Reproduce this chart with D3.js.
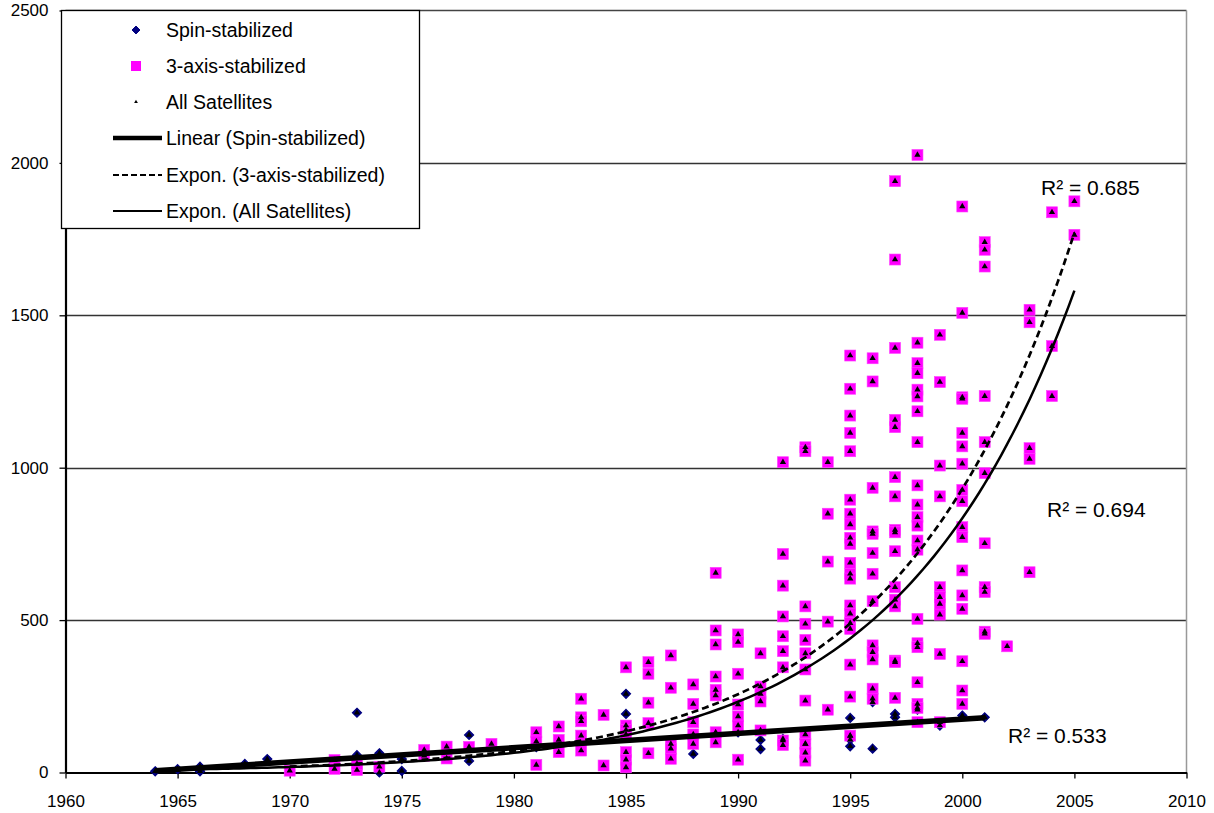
<!DOCTYPE html>
<html>
<head>
<meta charset="utf-8">
<script src="https://cdn.jsdelivr.net/npm/d3@7"></script>
<style>
  html, body { margin: 0; padding: 0; background: #fff; }
  svg { display: block; font-family: "Liberation Sans", Arial, sans-serif; }
</style>
</head>
<body>
<svg id="chart" width="1214" height="813"></svg>
<script>
// ---------------- data ----------------
const xTicks = [1960, 1965, 1970, 1975, 1980, 1985, 1990, 1995, 2000, 2005, 2010];
const yTicks = [0, 500, 1000, 1500, 2000, 2500];

// Spin-stabilized satellites: [year, value]
const spinData = [
  [1964, 4], [1965, 11], [1966, 19], [1966, 4], [1968, 28], [1969, 44],
  [1973, 196], [1973, 57], [1974, 63], [1974, 0], [1975, 44], [1975, 5],
  [1978, 123], [1978, 38], [1981, 83], [1985, 258], [1985, 192], [1988, 61],
  [1990, 132], [1991, 107], [1991, 77], [1992, 110], [1993, 94],
  [1995, 179], [1995, 120], [1995, 108], [1995, 86], [1996, 231], [1996, 78],
  [1997, 192], [1997, 181], [1998, 206], [1999, 154], [2000, 187], [2001, 181]
];

// 3-axis-stabilized satellites: values per launch year
const threeAxisYears = [1970, 1972, 1973, 1974, 1976, 1977, 1978, 1979, 1981, 1982, 1983, 1984,
  1985, 1986, 1987, 1988, 1989, 1990, 1991, 1992, 1993, 1994, 1995, 1996, 1997, 1998,
  1999, 2000, 2001, 2002, 2003, 2004, 2005];
const threeAxisValues = [
  [6],
  [41, 12],
  [8, 28],
  [19],
  [74, 55],
  [85, 46],
  [84],
  [94],
  [132, 102, 25],
  [151, 107, 67],
  [242, 181, 168, 121, 72],
  [189, 23],
  [345, 154, 140, 125, 67, 42, 17],
  [362, 324, 229, 162, 63],
  [384, 278, 94, 78, 45],
  [289, 225, 165, 125, 94],
  [655, 466, 420, 315, 271, 253, 132, 99],
  [453, 428, 324, 223, 184, 154, 42],
  [391, 282, 258, 233, 138],
  [1018, 717, 613, 512, 447, 398, 345, 105, 90],
  [1067, 1054, 545, 488, 435, 391, 338, 236, 125, 94, 65, 39],
  [1018, 849, 692, 495, 206],
  [1368, 1259, 1171, 1114, 1054, 895, 849, 814, 770, 750, 688, 652, 636, 548, 521, 490, 471, 354, 249, 121],
  [1359, 1283, 934, 791, 783, 720, 652, 562, 417, 395, 371, 275, 242],
  [1940, 1683, 1393, 1157, 1133, 969, 906, 796, 788, 726, 608, 567, 545, 367, 362, 245],
  [2026, 1410, 1343, 1310, 1256, 1234, 1185, 1084, 942, 879, 838, 810, 761, 731, 504, 424, 411, 296, 225, 212, 165],
  [1436, 1281, 1007, 906, 608, 575, 553, 518, 389, 165],
  [1857, 1508, 1231, 1226, 1114, 1070, 1013, 927, 890, 805, 772, 663, 581, 537, 365, 269, 225],
  [1740, 1715, 1660, 1235, 1084, 982, 752, 608, 592, 462, 455],
  [414],
  [1518, 1477, 1064, 1029, 657],
  [1838, 1399, 1235],
  [1874, 1764]
];

// Trend lines
const spinLinear = [[1964, 6], [2001, 180]];            // linear endpoints
const threeAxisExpon = [135, 0.1287, 1985, 1970, 2005];  // a, b, x0, from, to : y = a*exp(b*(x-x0))
const allExpon = [500, 0.1279, 1996, 1964, 2005];
const rSquared = ["0.685", "0.694", "0.533"];

const legendItems = ["Spin-stabilized", "3-axis-stabilized", "All Satellites",
  "Linear (Spin-stabilized)", "Expon. (3-axis-stabilized)", "Expon. (All Satellites)"];

// ---------------- drawing ----------------
const svg = d3.select("#chart");
const x = d3.scaleLinear().domain([1960, 2010]).range([65.5, 1186.5]);
const y = d3.scaleLinear().domain([0, 2500]).range([772.5, 10.5]);

// gridlines
svg.append("g").selectAll("line").data(yTicks.filter(d => d > 0 && d < 2500)).join("line")
  .attr("x1", x(1960)).attr("x2", x(2010))
  .attr("y1", d => Math.round(y(d)) + 0.5).attr("y2", d => Math.round(y(d)) + 0.5)
  .attr("stroke", "#333").attr("stroke-width", 1.3);

// plot frame (top & right)
svg.append("line").attr("x1", x(1960)).attr("x2", x(2010)).attr("y1", y(2500)).attr("y2", y(2500))
  .attr("stroke", "#444").attr("stroke-width", 1.3);
svg.append("line").attr("x1", x(2010)).attr("x2", x(2010)).attr("y1", y(2500)).attr("y2", y(0))
  .attr("stroke", "#999").attr("stroke-width", 1.5);

// axes
const xAxis = d3.axisBottom(x).tickValues(xTicks).tickFormat(d3.format("d")).tickSize(6).tickSizeOuter(0);
const gx = svg.append("g").attr("transform", `translate(0,${y(0)})`).call(xAxis);
gx.select(".domain").attr("stroke", "#000").attr("stroke-width", 2.2);
gx.selectAll(".tick line").attr("stroke", "#000").attr("stroke-width", 1.3);
gx.selectAll(".tick text").attr("font-family", "Liberation Sans, Arial, sans-serif")
  .attr("font-size", 17).attr("fill", "#000").attr("dy", null).attr("y", 34);

const yAxis = d3.axisLeft(y).tickValues(yTicks).tickFormat(d3.format("d")).tickSize(6).tickSizeOuter(0);
const gy = svg.append("g").attr("transform", `translate(${x(1960)},0)`).call(yAxis);
gy.select(".domain").attr("stroke", "#000").attr("stroke-width", 2.2);
gy.selectAll(".tick line").attr("stroke", "#000").attr("stroke-width", 1.3);
gy.selectAll(".tick text").attr("font-family", "Liberation Sans, Arial, sans-serif")
  .attr("font-size", 17).attr("fill", "#000").attr("x", -17);

// points
const threeAxisData = [];
threeAxisYears.forEach((yr, i) => threeAxisValues[i].forEach(v => threeAxisData.push([yr, v])));
const allData = spinData.concat(threeAxisData);

const diamond = d3.symbol().type(d3.symbolDiamond2).size(52);
svg.append("g").selectAll("path").data(spinData).join("path")
  .attr("d", diamond)
  .attr("transform", d => `translate(${x(d[0])},${y(d[1])})`)
  .attr("fill", "#000080").attr("stroke", "#000080").attr("stroke-width", 1.2);

svg.append("g").selectAll("rect").data(threeAxisData).join("rect")
  .attr("x", d => x(d[0]) - 5.5).attr("y", d => y(d[1]) - 5.5)
  .attr("width", 11).attr("height", 11)
  .attr("fill", "#ff00ff").attr("stroke", "#ff40ff").attr("stroke-width", 0.6);

const tri = d3.symbol().type(d3.symbolTriangle).size(17);
svg.append("g").selectAll("path").data(allData).join("path")
  .attr("d", tri)
  .attr("transform", d => `translate(${x(d[0])},${y(d[1])})`)
  .attr("fill", "#000");

// trend lines
const line = d3.line().x(d => x(d[0])).y(d => y(d[1]));
svg.append("path").datum(spinLinear).attr("d", line)
  .attr("fill", "none").attr("stroke", "#000").attr("stroke-width", 5.5);

function expon(p) {
  const [a, b, x0, from, to] = p;
  return d3.range(from, to + 0.001, 0.25).map(t => [t, a * Math.exp(b * (t - x0))]);
}
svg.append("path").datum(expon(threeAxisExpon)).attr("d", line)
  .attr("fill", "none").attr("stroke", "#000").attr("stroke-width", 2.7).attr("stroke-dasharray", "7,4");
svg.append("path").datum(expon(allExpon)).attr("d", line)
  .attr("fill", "none").attr("stroke", "#000").attr("stroke-width", 2.5);

// R² labels
const rPos = [[1041, 195], [1047, 517], [1008, 743]];
svg.append("g").selectAll("text").data(rSquared).join("text")
  .attr("x", (d, i) => rPos[i][0]).attr("y", (d, i) => rPos[i][1])
  .attr("font-size", 21).attr("fill", "#000")
  .text(d => `R² = ${d}`);

// legend
const lg = svg.append("g");
lg.append("rect").attr("x", 61.5).attr("y", 10.5).attr("width", 358).attr("height", 218)
  .attr("fill", "#fff").attr("stroke", "#000").attr("stroke-width", 1.3);
const rowY = [30, 66, 102, 138, 175, 211];
lg.selectAll("text").data(legendItems).join("text")
  .attr("x", 166).attr("y", (d, i) => rowY[i] + 7)
  .attr("font-size", 19.5).attr("fill", "#000").text(d => d);
lg.append("path").attr("d", d3.symbol().type(d3.symbolDiamond2).size(40)).attr("transform", `translate(136,${rowY[0]})`)
  .attr("fill", "#000080").attr("stroke", "#000080").attr("stroke-width", 1);
lg.append("rect").attr("x", 131).attr("y", rowY[1] - 5).attr("width", 10).attr("height", 10).attr("fill", "#ff00ff");
lg.append("path").attr("d", d3.symbol().type(d3.symbolTriangle).size(6)).attr("transform", `translate(136,${rowY[2]})`).attr("fill", "#000");
lg.append("line").attr("x1", 113).attr("x2", 162).attr("y1", rowY[3]).attr("y2", rowY[3]).attr("stroke", "#000").attr("stroke-width", 4.5);
lg.append("line").attr("x1", 113).attr("x2", 162).attr("y1", rowY[4]).attr("y2", rowY[4]).attr("stroke", "#000").attr("stroke-width", 2).attr("stroke-dasharray", "6,3");
lg.append("line").attr("x1", 113).attr("x2", 162).attr("y1", rowY[5]).attr("y2", rowY[5]).attr("stroke", "#000").attr("stroke-width", 2);
</script>
</body>
</html>
